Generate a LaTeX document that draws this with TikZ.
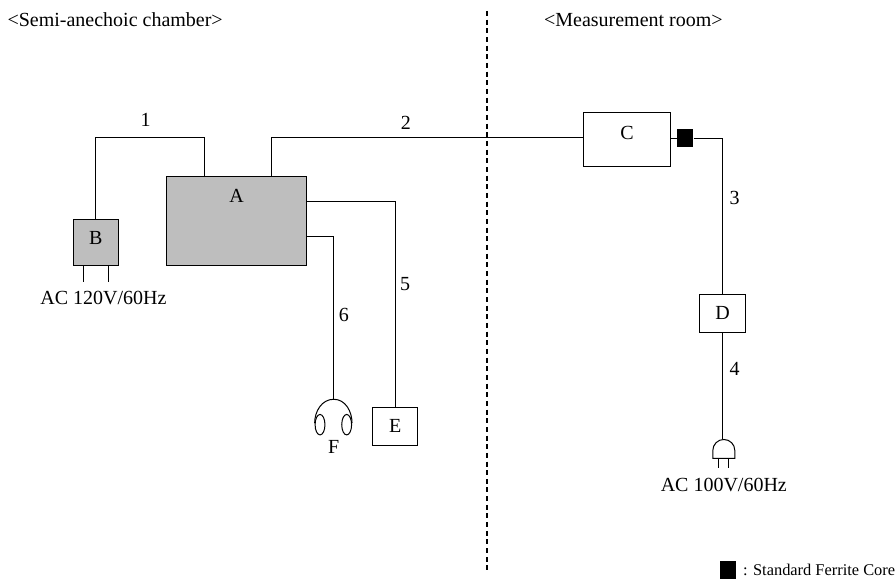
\documentclass[tikz,border=0pt]{standalone}
\usepackage{fontspec}
\setmainfont{Liberation Serif}
\usetikzlibrary{positioning, shapes.geometric}

\begin{document}
\begin{tikzpicture}[
  unit/.style={
    rectangle,
    draw,
    line width=0.75pt,
    inner sep=0pt,
    align=center
  },
  grayunit/.style={
    unit,
    fill=graybox
  },
  core/.style={
    rectangle,
    fill=black,
    inner sep=0pt,
    minimum width=0.42cm,
    minimum height=0.47cm
  },
  earcup/.style={
    ellipse,
    draw,
    line width=0.75pt,
    inner sep=0pt,
    minimum width=0.26cm,
    minimum height=0.54cm
  },
  plain/.style={
    inner sep=0pt
  },
  cablenum/.style={
    inner sep=0pt,
    font=\fontsize{15}{17}\selectfont
  },
  every node/.style={font=\fontsize{15}{17}\selectfont},
  cable/.style={line width=0.75pt},
  thinline/.style={line width=0.75pt},
  divider/.style={line width=1.2pt, dash pattern=on 3.75pt off 2.75pt}
]
\definecolor{graybox}{HTML}{BEBEBE}

\useasboundingbox (0,0) rectangle (23.6,-15.31);

% ============================================================
% Divider and room titles
% ============================================================

\coordinate (divtop) at (12.84,-0.29);
\coordinate (divbot) at (12.84,-15.03);
\draw[divider] (divtop) -- (divbot);

\node[plain, left=6.96cm of divtop, yshift=-0.24cm] (titlechamber) {<Semi-anechoic chamber>};
\node[plain, right=1.5cm of divtop, yshift=-0.24cm] (titleroom) {<Measurement room>};

% ============================================================
% Chamber side
% ============================================================

\node[grayunit, minimum width=3.69cm, minimum height=2.35cm] (A) at (6.24,-5.83) {};
\node[plain, below=0.34cm of A.north] (labelA) {A};

\node[grayunit, minimum width=1.2cm, minimum height=1.22cm, left=1.24cm of A.south west, anchor=south east] (B) {};
\node[plain, below=0.32cm of B.north] (labelB) {B};
\node[plain, below=0.66cm of B, xshift=0.2cm] (powerB) {AC 120V/60Hz};

\node[unit, minimum width=1.19cm, minimum height=1cm, below=3.71cm of A, xshift=4.18cm] (E) {E};

\coordinate[left=1.62cm of E.north, yshift=0.2cm] (phone);
\node[earcup, below left=0.47cm and 0.26cm of phone] (earL) {};
\node[earcup, below right=0.47cm and 0.24cm of phone] (earR) {};
\node[plain, below=1.07cm of phone] (F) {F};

% ============================================================
% Measurement room side
% ============================================================

\node[unit, minimum width=2.29cm, minimum height=1.42cm, right=7.28cm of A.north east, anchor=south west, yshift=0.24cm] (C) {};
\node[plain, below=0.36cm of C.north] (labelC) {C};

\node[core, right=0.16cm of C, yshift=0.03cm] (ferrite) {};

\node[unit, minimum width=1.21cm, minimum height=0.98cm, below=3.36cm of C, xshift=2.52cm] (D) {D};

\coordinate[below=2.82cm of D, xshift=0.03cm] (plug);
\coordinate[below=0.29cm of plug] (plugside);
\coordinate[below=0.5cm of plug] (plugbase);
\node[plain, below=0.69cm of plugbase, anchor=center] (powerD) {AC 100V/60Hz};

% ============================================================
% Cables
% ============================================================

\coordinate[yshift=0.06cm] (wire) at (C.west);
\coordinate[xshift=1cm] (portone) at (A.north west);
\coordinate[xshift=2.79cm] (porttwo) at (A.north west);
\coordinate[yshift=0.51cm] (portfive) at (A.east);
\coordinate[yshift=-0.41cm] (portsix) at (A.east);

\draw[cable] (B.north) |- node[pos=0.73, above=0.26cm, cablenum] {1} (portone |- wire) -- (portone);
\draw[cable] (wire) -| node[pos=0.285, above=0.2cm, cablenum] {2} (porttwo);
\draw[cable] (C.east |- ferrite) -- (ferrite);
\draw[cable] (ferrite) -| node[pos=0.69, right=0.17cm, cablenum] {3} (D.north);
\draw[cable] (D) -- node[pos=0.34, right=0.17cm, cablenum] {4} (D |- plug);
\draw[cable] (portfive) -| node[pos=0.7, right=0.12cm, cablenum] {5} (E.north);
\draw[cable] (portsix) -| node[pos=0.74, right=0.12cm, cablenum] {6} (phone);

\draw[thinline] ([xshift=-0.33cm]B.south) -- ++(0,-0.42);
\draw[thinline] ([xshift=0.33cm]B.south) -- ++(0,-0.42);

\draw[thinline] (earL.165) to[out=90,in=180] (phone) to[out=0,in=90] (earR.15);

\draw[thinline] ([xshift=-0.29cm]plugside) arc (180:0:0.29cm) -- ([xshift=0.29cm]plugbase) -- ([xshift=-0.29cm]plugbase) -- cycle;
\draw[thinline] ([xshift=-0.14cm]plugbase) -- ++(0,-0.24);
\draw[thinline] ([xshift=0.12cm]plugbase) -- ++(0,-0.24);

% ============================================================
% Legend
% ============================================================

\node[core] (legendcore) at (19.19,-15.03) {};
\node[plain, right=0.18cm of legendcore, font=\fontsize{12.3}{15}\selectfont] (legendtext) {: Standard Ferrite Core};

\end{tikzpicture}
\end{document}
